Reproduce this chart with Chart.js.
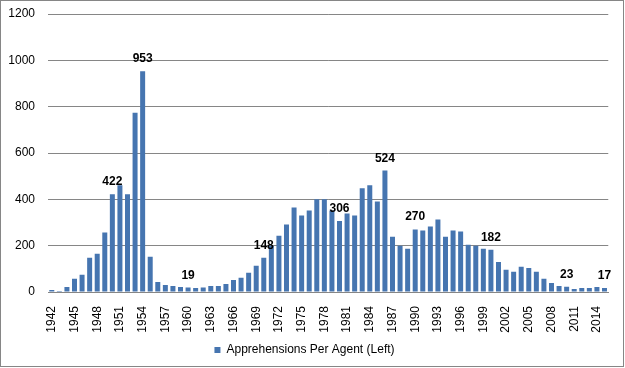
<!DOCTYPE html>
<html lang="en">

<head>
  <meta charset="UTF-8">
  <title>Apprehensions Per Agent</title>
  <script src="https://cdn.jsdelivr.net/npm/chart.js"></script>
  <style>
    body {
      margin: 0;
      background-color: #ffffff;
    }

    .chart-container {
      position: relative;
      width: 625px;
      height: 368px;
    }
  </style>
</head>

<body>
  <div class="chart-container">
    <canvas id="agentChart"></canvas>
  </div>

  <script>
    const years = [];
    for (let y = 1942; y <= 2015; y++) years.push(String(y));

    const apprehensions = [
      9, 4, 22, 57, 74, 148, 165, 257, 422, 461,
      422, 774, 953, 152, 43, 30, 26, 22, 19, 17,
      19, 26, 26, 35, 52, 61, 83, 113, 148, 200,
      243, 291, 365, 330, 352, 400, 400, 352, 306, 339,
      330, 448, 461, 391, 524, 239, 200, 187, 270, 265,
      283, 313, 239, 265, 261, 204, 200, 187, 182, 130,
      96, 87, 109, 104, 87, 57, 39, 26, 23, 13,
      17, 17, 22, 17
    ];

    const labeledYears = ['1950', '1954', '1960', '1970', '1980', '1986', '1990', '2000', '2010', '2015'];
    const yTicks = [0, 200, 400, 600, 800, 1000, 1200];

    const barLabels = {
      id: 'barLabels',
      afterDatasetsDraw(chart) {
        const ctx = chart.ctx;
        const meta = chart.getDatasetMeta(0);
        ctx.save();
        ctx.font = 'bold 12px "Liberation Sans", Arial, sans-serif';
        ctx.fillStyle = '#000';
        ctx.textAlign = 'center';
        ctx.textBaseline = 'alphabetic';
        labeledYears.forEach(yr => {
          const i = years.indexOf(yr);
          const bar = meta.data[i];
          ctx.fillText(apprehensions[i], bar.x, bar.y - 9);
        });
        ctx.restore();
      }
    };

    const frame = {
      id: 'frame',
      afterDraw(chart) {
        const ctx = chart.ctx;
        ctx.save();
        ctx.strokeStyle = '#868686';
        ctx.lineWidth = 1;
        ctx.strokeRect(0.5, 0.5, chart.width - 2, chart.height - 2);
        ctx.restore();
      }
    };

    const ctx1 = document.getElementById('agentChart').getContext('2d');
    new Chart(ctx1, {
      type: 'bar',
      data: {
        labels: years,
        datasets: [{
          label: 'Apprehensions Per Agent (Left)',
          data: apprehensions,
          backgroundColor: '#4675b0',
          borderWidth: 0,
          barPercentage: 0.66,
          categoryPercentage: 1
        }]
      },
      options: {
        responsive: true,
        maintainAspectRatio: false,
        animation: false,
        layout: {
          padding: { top: 14, right: 16, bottom: 2, left: 0 }
        },
        scales: {
          y: {
            min: 0,
            max: 1200,
            afterBuildTicks: axis => {
              axis.ticks = yTicks.map(v => ({ value: v }));
            },
            afterFit: axis => {
              axis.width = 48;
              axis.paddingTop = 0;
              axis.paddingBottom = 0;
            },
            ticks: {
              color: '#000',
              padding: 13,
              font: { family: '"Liberation Sans", Arial, sans-serif', size: 12 },
              callback: value => String(value)
            },
            grid: {
              color: '#868686',
              drawTicks: false
            },
            border: { display: false }
          },
          x: {
            afterFit: axis => { axis.height = 42; },
            ticks: {
              color: '#000',
              autoSkip: false,
              minRotation: 90,
              maxRotation: 90,
              padding: 6,
              font: { family: '"Liberation Sans", Arial, sans-serif', size: 12 },
              callback: function (value, index) {
                return index % 3 === 0 ? years[index] : '';
              }
            },
            grid: { display: false },
            border: { color: '#868686' }
          }
        },
        plugins: {
          legend: {
            position: 'bottom',
            labels: {
              color: '#000',
              boxWidth: 6,
              boxHeight: 6,
              padding: 10,
              font: { family: '"Liberation Sans", Arial, sans-serif', size: 12 }
            }
          },
          tooltip: { enabled: false }
        }
      },
      plugins: [barLabels, frame]
    });
  </script>
</body>

</html>
